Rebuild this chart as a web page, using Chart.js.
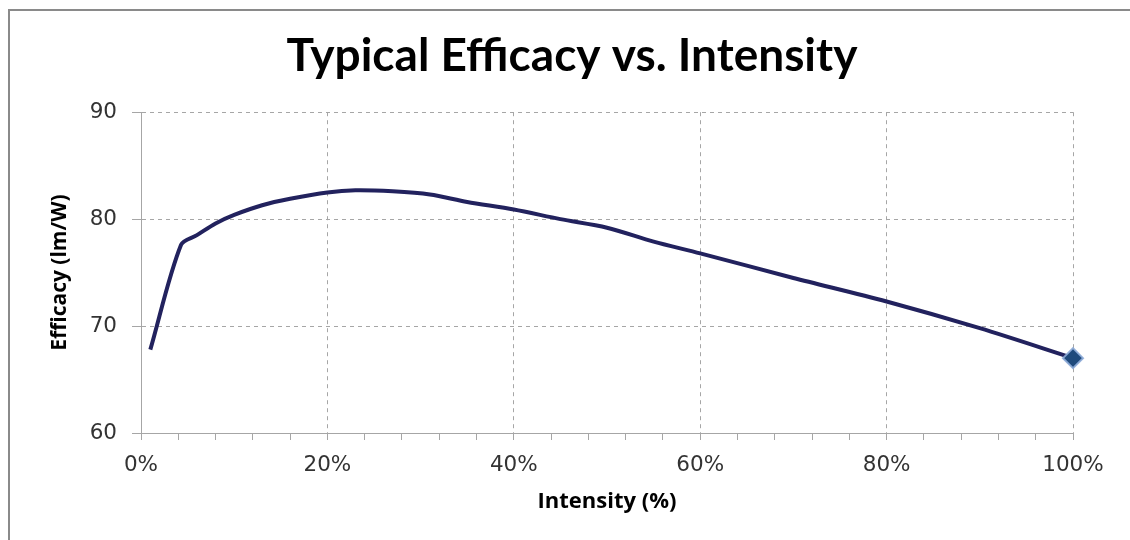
<!DOCTYPE html>
<html lang="en">
<head>
    <meta charset="UTF-8">
    <title>Typical Efficacy vs. Intensity</title>
    <script src="https://cdn.jsdelivr.net/npm/chart.js@4.4.1/dist/chart.umd.min.js"></script>
    <style>
        body { margin: 0; background: #fff; overflow: hidden; }
        .wrap { position: relative; width: 1130px; height: 540px; }
        /* frame of the chart, only top and left edges are visible */
        .frame { position: absolute; left: 8px; top: 9px; width: 1200px; height: 600px;
                 border-left: 2px solid #8a8a8a; border-top: 2px solid #8a8a8a; }
        canvas { position: absolute; left: 0; top: 0; }
    </style>
</head>
<body>
<div class="wrap">
    <div class="frame"></div>
    <canvas id="efficacyChart"></canvas>
</div>
<script>
    // Intensity (%) and efficacy (lm/W)
    const intensity = [1, 4.3, 6, 8, 10, 13, 16, 20, 23, 27, 31, 35, 40, 45, 50, 55, 60, 70, 80, 90, 100];
    const efficacy = [67.8, 77.6, 78.5, 79.6, 80.4, 81.3, 81.9, 82.5, 82.7, 82.6, 82.3, 81.6, 80.9, 80.0, 79.2, 77.9, 76.8, 74.5, 72.3, 69.8, 67.0];

    const xTicks = [0, 20, 40, 60, 80, 100];
    const yTicks = [60, 70, 80, 90];

    const points = intensity.map((x, i) => ({ x: x, y: efficacy[i] }));
    const lastIndex = points.length - 1;

    const ctx = document.getElementById('efficacyChart').getContext('2d');
    new Chart(ctx, {
        type: 'line',
        data: {
            datasets: [{
                label: 'Efficacy',
                data: points,
                borderColor: '#22225e',
                borderWidth: 4,
                tension: 0.3,
                pointStyle: 'rectRot',
                pointRadius: c => c.dataIndex === lastIndex ? 10 : 0,
                pointHoverRadius: c => c.dataIndex === lastIndex ? 10 : 0,
                pointBackgroundColor: '#1f4a7c',
                pointBorderColor: 'rgba(140, 170, 215, 0.9)',
                pointBorderWidth: 2,
                clip: false
            }]
        },
        options: {
            responsive: true,
            maintainAspectRatio: false,
            animation: false,
            layout: { padding: { left: 14, right: 0, top: 0, bottom: 0 } },
            plugins: {
                legend: { display: false },
                tooltip: { enabled: false },
                title: {
                    display: true,
                    text: 'Typical Efficacy vs. Intensity',
                    color: '#000',
                    font: { family: 'Lato', size: 46, weight: 'bold' },
                    padding: { top: 29, bottom: 28 }
                }
            },
            scales: {
                x: {
                    type: 'linear',
                    min: 0,
                    max: 100,
                    afterFit: s => { s.height = 107; },
                    afterBuildTicks: s => {
                        // minor ticks every 4%
                        const t = [];
                        for (let v = 0; v <= 100; v += 4) t.push({ value: v });
                        xTicks.forEach(v => { if (v % 4 !== 0) t.push({ value: v }); });
                        t.sort((a, b) => a.value - b.value);
                        s.ticks = t;
                    },
                    ticks: {
                        autoSkip: false,
                        maxRotation: 0,
                        padding: 13,
                        color: '#333',
                        font: { family: 'DejaVu Sans', size: 21.5 },
                        callback: v => xTicks.includes(v) ? v + '%' : ''
                    },
                    grid: {
                        color: c => (c.tick && xTicks.includes(c.tick.value)) ? '#a6a6a6' : 'rgba(0,0,0,0)',
                        tickColor: '#a6a6a6',
                        tickLength: 7,
                        lineWidth: 1
                    },
                    border: { display: true, color: '#a6a6a6', width: 1, dash: [4, 4] },
                    title: {
                        display: true,
                        text: 'Intensity (%)',
                        color: '#000',
                        font: { family: 'Open Sans', size: 22, weight: 'bold' },
                        padding: { top: 0, bottom: 25 }
                    }
                },
                y: {
                    min: 60,
                    max: 90,
                    afterFit: s => { s.width = 127; },
                    afterBuildTicks: s => { s.ticks = yTicks.map(v => ({ value: v })); },
                    ticks: {
                        padding: 15,
                        color: '#333',
                        font: { family: 'DejaVu Sans', size: 21.5 }
                    },
                    grid: {
                        color: '#a6a6a6',
                        tickColor: '#a6a6a6',
                        tickLength: 9,
                        lineWidth: 1
                    },
                    border: { display: true, color: '#a6a6a6', width: 1, dash: [4, 4] },
                    title: {
                        display: true,
                        text: 'Efficacy (lm/W)',
                        color: '#000',
                        font: { family: 'Open Sans', size: 21, weight: 'bold' },
                        padding: { top: 33, bottom: 0 }
                    }
                },
                spacer: {
                    // empty right-hand axis that keeps the plot clear of the right edge
                    position: 'right',
                    display: true,
                    afterFit: s => { s.width = 57; },
                    ticks: { display: false },
                    grid: { display: false },
                    border: { display: false }
                }
            }
        }
    });
</script>
</body>
</html>
